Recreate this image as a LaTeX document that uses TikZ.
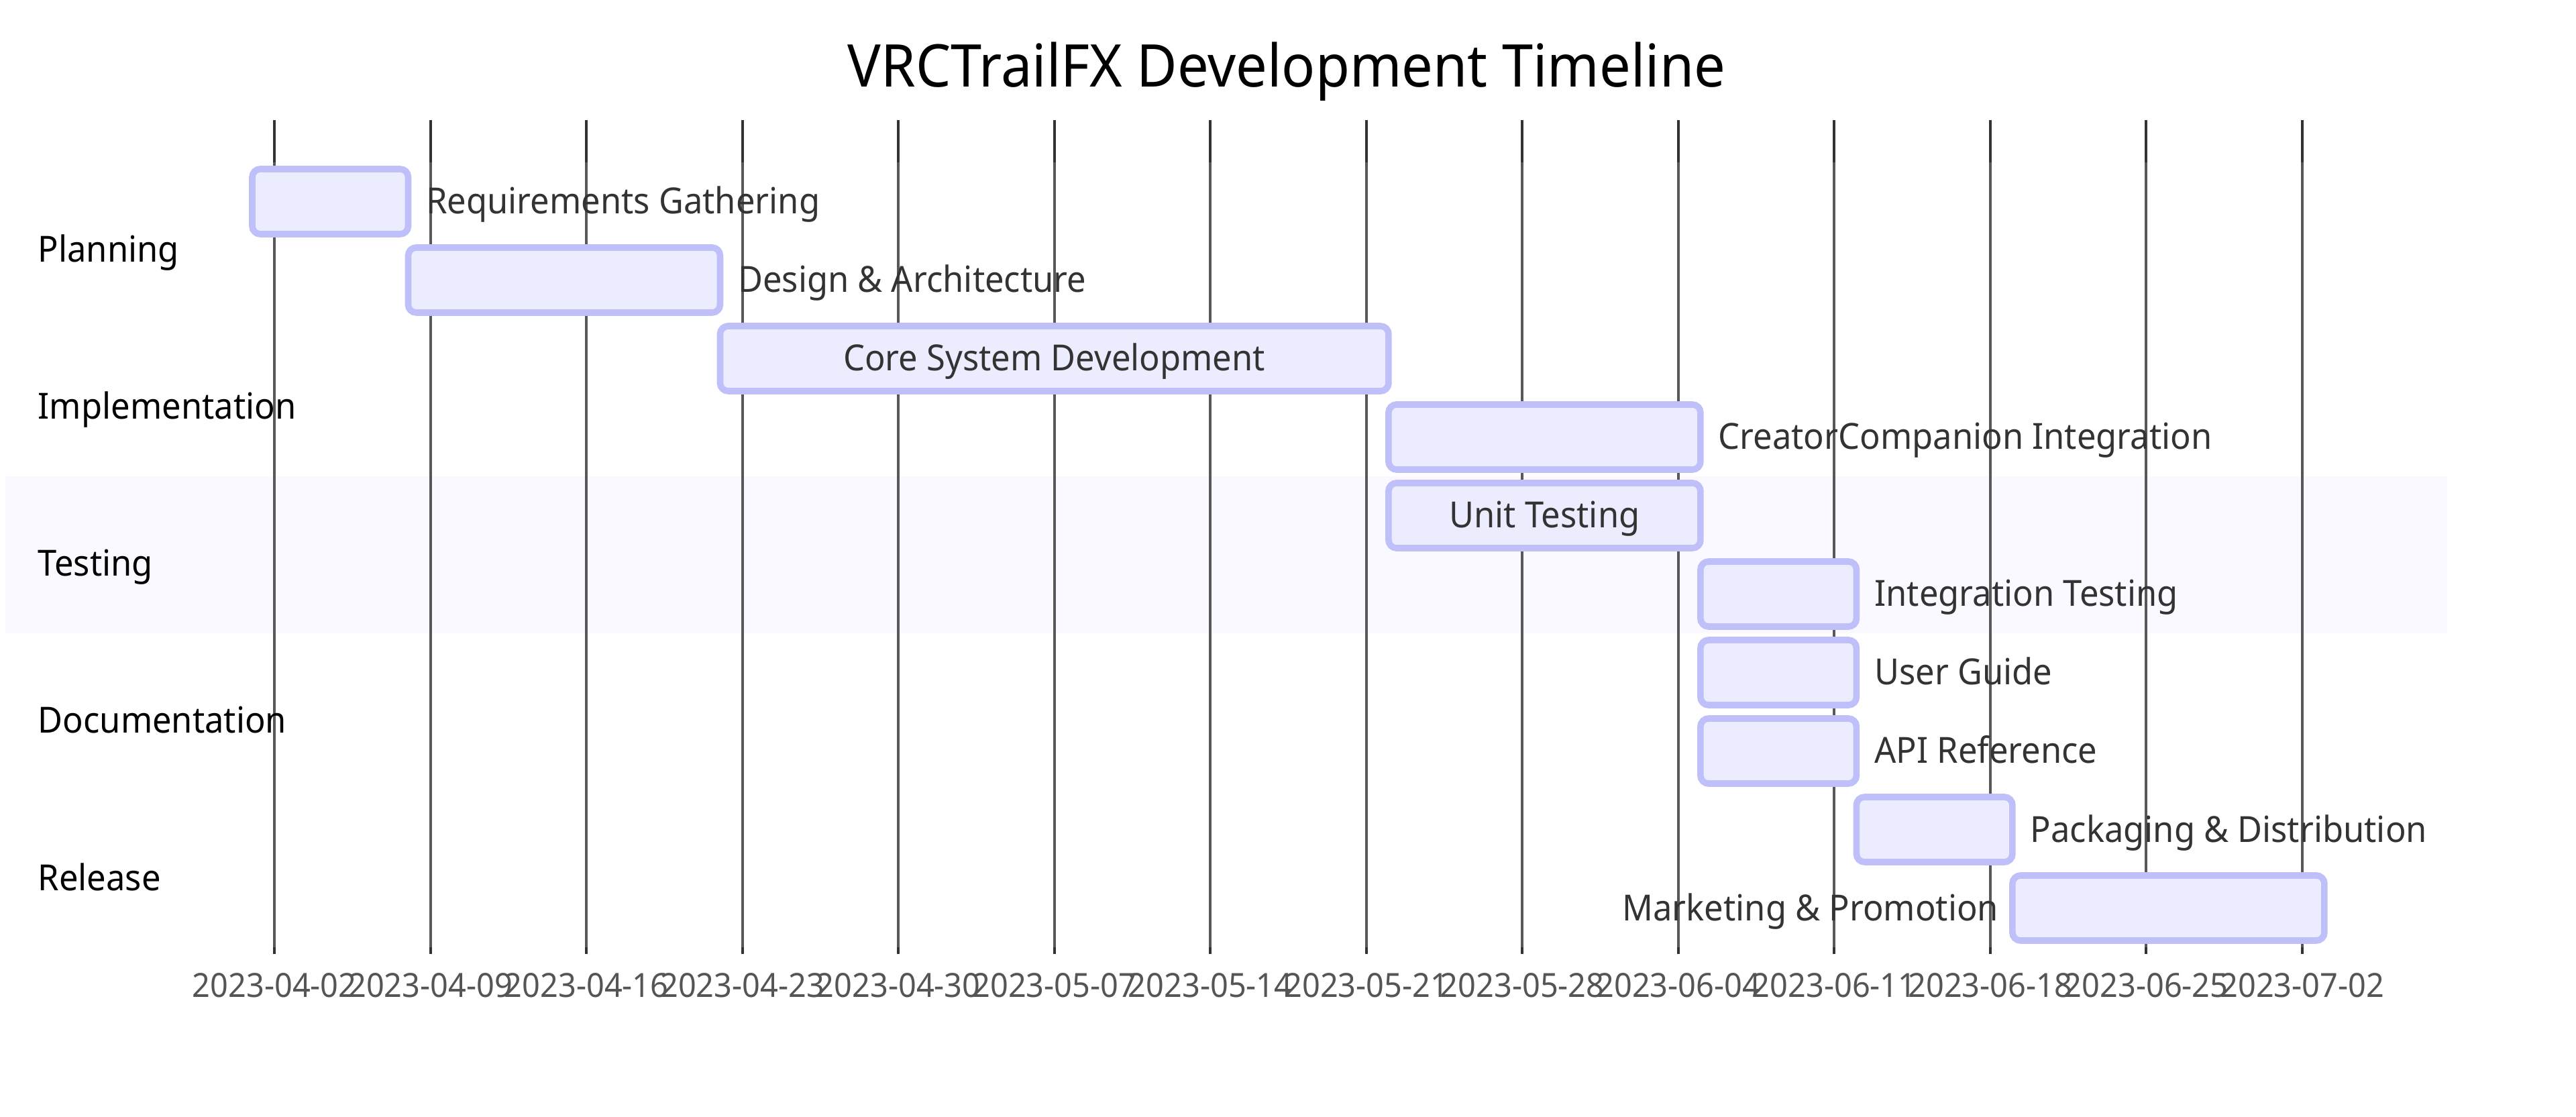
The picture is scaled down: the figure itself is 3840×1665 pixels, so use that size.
\documentclass[tikz,border=0pt]{standalone}
\usepackage{fontspec}
\setmainfont{Noto Sans}[FakeStretch=0.945]
\definecolor{barfill}{HTML}{ECECFF}
\definecolor{barline}{HTML}{BFBFF9}
\definecolor{shadec}{HTML}{F9F9FF}
\definecolor{tasktext}{HTML}{333333}
\definecolor{gridc}{HTML}{585858}
\definecolor{gridd}{HTML}{333333}
\definecolor{axisc}{HTML}{555555}
\tikzset{
  bar/.style={draw=barline, fill=barfill, line width=2.4pt, rounded corners=3pt,
    minimum height=24.25pt, inner sep=0pt, rectangle},
  tasklabel/.style={inner sep=0pt, text=tasktext, font=\fontsize{13.4pt}{16pt}\selectfont},
  seclabel/.style={inner sep=0pt, text=black, anchor=base west, font=\fontsize{13.4pt}{16pt}\selectfont},
  axislabel/.style={inner sep=0pt, text=axisc, anchor=base, font=\fontsize{12.4pt}{14pt}\selectfont},
  titlelabel/.style={inner sep=0pt, text=black, anchor=base, font=\fontsize{21.95pt}{26pt}\selectfont},
  gridline/.style={draw=gridc, line width=1pt},
  griddark/.style={draw=gridd, line width=1pt},
}
\newcommand\gbar[4]{%
  \pgfmathsetmacro\xa{409.2+33.214*#3}%
  \pgfmathsetmacro\xb{409.2+33.214*#4}%
  \pgfmathsetmacro\yc{300.5+117*(#2-1)}%
  \pgfmathsetmacro\barwd{(\xb-\xa)*0.25}%
  \node[bar, minimum width=\barwd pt] (#1) at ({(\xa+\xb)/2},\yc) {};}
\newcommand\taskR[5]{\gbar{#1}{#2}{#3}{#4}%
  \node[tasklabel, anchor=base west] (#1-t) at ({\xb+26},{\yc+18.5}) {#5};}
\newcommand\taskI[5]{\gbar{#1}{#2}{#3}{#4}%
  \node[tasklabel, anchor=base] (#1-t) at ({(\xa+\xb)/2},{\yc+18.5}) {#5};}
\newcommand\taskL[5]{\gbar{#1}{#2}{#3}{#4}%
  \node[tasklabel, anchor=base east] (#1-t) at ({\xa-20},{\yc+18.5}) {#5};}
\begin{document}
\begin{tikzpicture}[x=0.25pt,y=-0.25pt]
\useasboundingbox (0,0) rectangle (3840,1665);
\fill[white] (0,0) rectangle (3840,1665);
% Testing section shade
\fill[shadec] (8,710) rectangle (3648,944);
% grid and axis
\foreach \d/\lab [count=\k] in {0/2023-04-02,7/2023-04-09,14/2023-04-16,21/2023-04-23,
  28/2023-04-30,35/2023-05-07,42/2023-05-14,49/2023-05-21,56/2023-05-28,63/2023-06-04,
  70/2023-06-11,77/2023-06-18,84/2023-06-25,91/2023-07-02}{
  \pgfmathsetmacro\gx{409.2+33.214*\d}
  \draw[griddark] (\gx,179) -- (\gx,242);
  \draw[gridline] (\gx,242) -- (\gx,1412);
  \draw[griddark] (\gx,1412) -- (\gx,1422);
  \node[axislabel] (tick\k) at (\gx,1486) {\lab};
}
% title
\node[titlelabel] (title) at (1918,129.3) {VRCTrailFX Development Timeline};
% section labels
\node[seclabel] (sec1) at (56,391) {Planning};
\node[seclabel] (sec2) at (56,625) {Implementation};
\node[seclabel] (sec3) at (56,859) {Testing};
\node[seclabel] (sec4) at (56,1093) {Documentation};
\node[seclabel] (sec5) at (56,1327) {Release};
% tasks
\taskR{t1}{1}{-1}{6}{Requirements Gathering}
\taskR{t2}{2}{6}{20}{Design \& Architecture}
\taskI{t3}{3}{20}{50}{Core System Development}
\taskR{t4}{4}{50}{64}{CreatorCompanion Integration}
\taskI{t5}{5}{50}{64}{Unit Testing}
\taskR{t6}{6}{64}{71}{Integration Testing}
\taskR{t7}{7}{64}{71}{User Guide}
\taskR{t8}{8}{64}{71}{API Reference}
\taskR{t9}{9}{71}{78}{Packaging \& Distribution}
\taskL{t10}{10}{78}{92}{Marketing \& Promotion}
\end{tikzpicture}
\end{document}
